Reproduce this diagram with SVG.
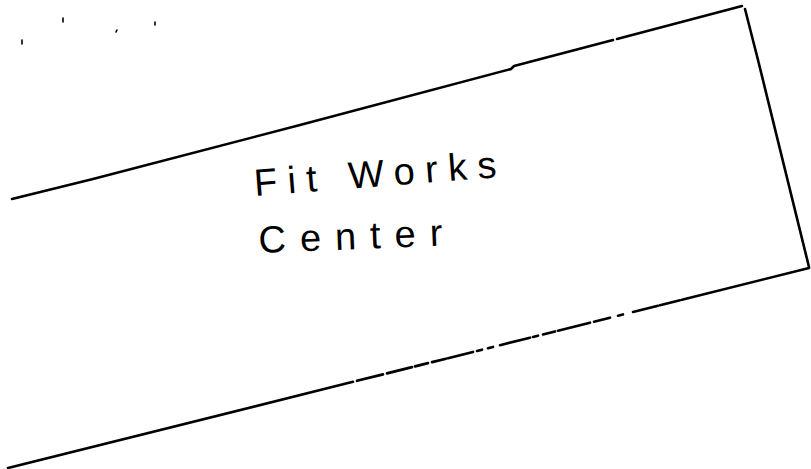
<svg xmlns="http://www.w3.org/2000/svg" width="811" height="469" viewBox="0 0 811 469">
  <style>
    .ink { fill: none; stroke: #000; stroke-width: 2.6; stroke-linecap: round; stroke-linejoin: round; }
    .speck { fill: none; stroke: #000; stroke-width: 1.6; stroke-linecap: round; }
    .label { font-family: "Liberation Sans", Arial, sans-serif; font-size: 38px; fill: #000; }
  </style>
  <rect width="811" height="469" fill="#fff"/>
  <g id="specks">
    <line class="speck" x1="22" y1="40" x2="22" y2="44"/>
    <line class="speck" x1="63" y1="18" x2="63" y2="22"/>
    <line class="speck" x1="117" y1="30" x2="116" y2="32"/>
    <line class="speck" x1="155" y1="22" x2="155" y2="25"/>
  </g>
  <g id="fitworks-center">
    <path class="ink" d="M12,199 L93,179 L300,125 L511,69 L514,66 L613,40"/>
    <path class="ink" d="M617,39 L742,6"/>
    <path class="ink" d="M745,9 L758,60 L809,267"/>
    <line class="ink" x1="8" y1="468" x2="809" y2="268" pathLength="801"
      stroke-dasharray="345 4 26 4 25 3 13 4 14 2 25 4 5 6 5 7 30 3 5 5 12 3 32 4 16 8 5 10 25 2 20 2 127 10"/>
    <text class="label" x="255" y="196" textLength="243" lengthAdjust="spacing" transform="rotate(-4.4 255 196)">Fit Works</text>
    <text class="label" x="259" y="253" textLength="184" lengthAdjust="spacing" transform="rotate(-2.3 259 253)">Center</text>
  </g>
</svg>
